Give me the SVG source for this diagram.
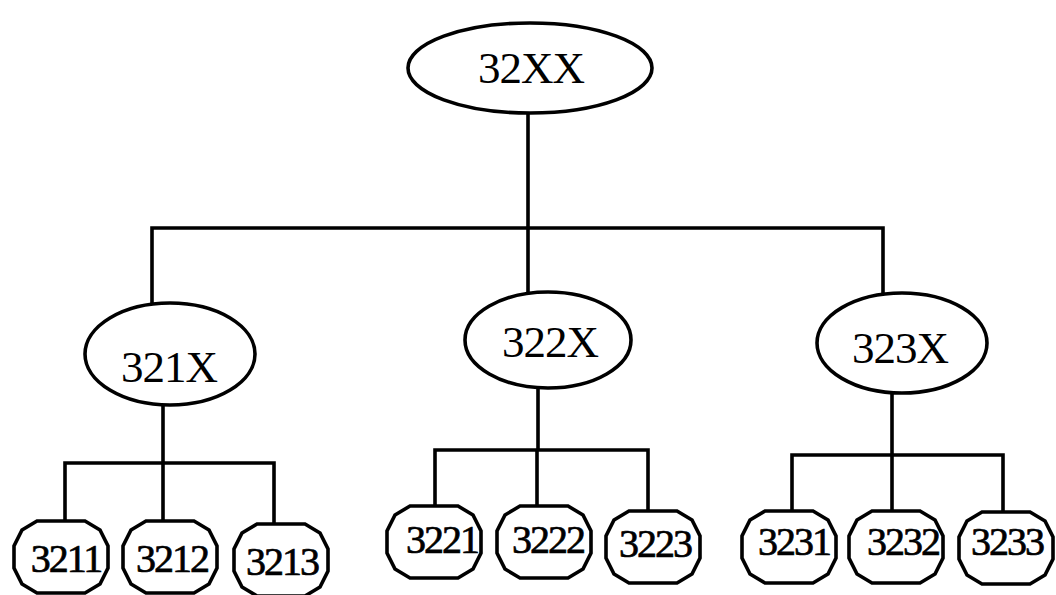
<svg xmlns="http://www.w3.org/2000/svg" xmlns:xlink="http://www.w3.org/1999/xlink" width="1056" height="595" viewBox="0 0 1056 595">
  <style>
    .shape { fill: #fff; stroke: #000; stroke-width: 3.6; }
    .wire { fill: none; stroke: #000; stroke-width: 3.6; stroke-linecap: square; }
    .big { font-family: "Liberation Serif", "Times New Roman", serif; font-size: 45px; fill: #000; text-anchor: middle; letter-spacing: -1px; }
    .small { font-family: "Liberation Serif", "Times New Roman", serif; font-size: 40px; fill: #000; stroke: #000; stroke-width: 0.7; text-anchor: middle; letter-spacing: -2px; }
  </style>
  <defs>
    <!-- faceted oval used for the leaf codes -->
    <polygon id="leaf" points="-24,-36 24,-36 39,-27 47,-11 47,11 39,27 24,36 -24,36 -39,27 -47,11 -47,-11 -39,-27"/>
  </defs>

  <g id="connectors">
    <path class="wire" d="M528,113 V228 M152,228 H883 M152,228 V302 M528,228 V292 M883,228 V295"/>
    <path class="wire" d="M163,405 V463 M65,463 H274 M65,463 V522 M163,463 V522 M274,463 V525"/>
    <path class="wire" d="M538,388 V450 M435,450 H648 M435,450 V505 M537,450 V505 M648,450 V510"/>
    <path class="wire" d="M892,393 V455 M792,455 H1003 M792,455 V510 M892,455 V510 M1003,455 V512"/>
  </g>

  <g id="n32XX">
    <ellipse class="shape" cx="530" cy="68" rx="122" ry="45"/>
    <text class="big" x="531" y="83">32XX</text>
  </g>

  <g id="n321X">
    <ellipse class="shape" cx="170" cy="354" rx="85" ry="51"/>
    <text class="big" x="169" y="382">321X</text>
  </g>
  <g id="n322X">
    <ellipse class="shape" cx="548" cy="340" rx="83" ry="48"/>
    <text class="big" x="550" y="357">322X</text>
  </g>
  <g id="n323X">
    <ellipse class="shape" cx="902" cy="343" rx="85" ry="50"/>
    <text class="big" x="900" y="363">323X</text>
  </g>

  <g id="n3211">
    <use xlink:href="#leaf" class="shape" x="61" y="557"/>
    <text class="small" x="66" y="572">3211</text>
  </g>
  <g id="n3212">
    <use xlink:href="#leaf" class="shape" x="170" y="557"/>
    <text class="small" x="172" y="572">3212</text>
  </g>
  <g id="n3213">
    <use xlink:href="#leaf" class="shape" x="281" y="560"/>
    <text class="small" x="282" y="575">3213</text>
  </g>

  <g id="n3221">
    <use xlink:href="#leaf" class="shape" x="434" y="542"/>
    <text class="small" x="442" y="553">3221</text>
  </g>
  <g id="n3222">
    <use xlink:href="#leaf" class="shape" x="544" y="542"/>
    <text class="small" x="548" y="553">3222</text>
  </g>
  <g id="n3223">
    <use xlink:href="#leaf" class="shape" x="653" y="547"/>
    <text class="small" x="655" y="557">3223</text>
  </g>

  <g id="n3231">
    <use xlink:href="#leaf" class="shape" x="789" y="547"/>
    <text class="small" x="794" y="555">3231</text>
  </g>
  <g id="n3232">
    <use xlink:href="#leaf" class="shape" x="896" y="547"/>
    <text class="small" x="903" y="555">3232</text>
  </g>
  <g id="n3233">
    <use xlink:href="#leaf" class="shape" x="1006" y="548"/>
    <text class="small" x="1007" y="555">3233</text>
  </g>
</svg>
